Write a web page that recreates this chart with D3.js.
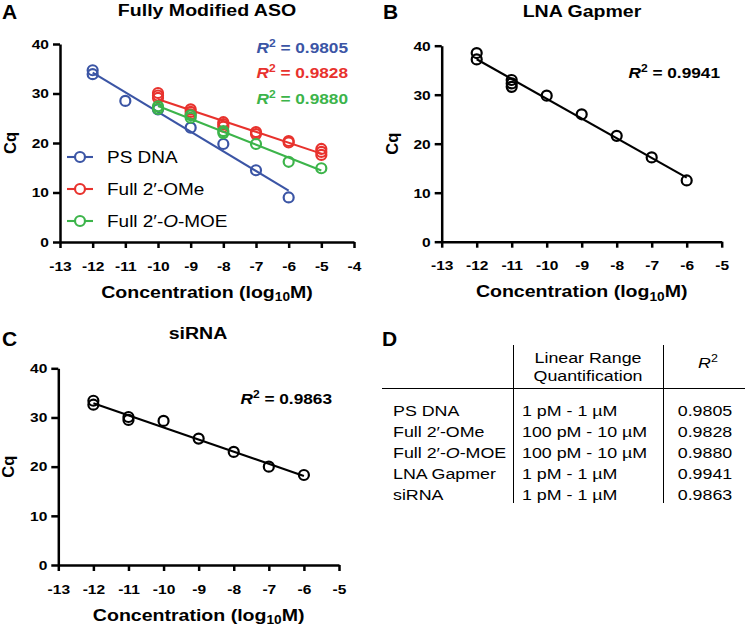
<!DOCTYPE html>
<html><head><meta charset="utf-8">
<script src="https://cdn.jsdelivr.net/npm/d3@7"></script>
<style>
body{margin:0;background:#fff}
svg{display:block}
text{font-family:"Liberation Sans",Arial,Helvetica,sans-serif}
</style>
</head><body>
<svg id="c" width="750" height="629"></svg>
<script>
// ---------- data ----------
const xTicksA = [-13,-12,-11,-10,-9,-8,-7,-6,-5,-4];
const xTicksBC = [-13,-12,-11,-10,-9,-8,-7,-6,-5];
const yTicks = [0,10,20,30,40];

const psDnaX = [-12,-12,-11,-10,-9,-8,-7,-6];
const psDnaY = [34.7,33.9,28.5,26.8,23.1,19.8,14.5,9.0];
const omeX = [-10,-10,-10,-9,-9,-9,-8,-8,-8,-7,-7,-6,-6,-5,-5,-5];
const omeY = [30.1,29.6,29.1,26.8,26.3,25.8,24.2,23.8,23.3,22.2,21.8,20.4,20.1,18.8,18.2,17.6];
const moeX = [-10,-10,-9,-9,-8,-8,-7,-6,-5];
const moeY = [27.4,26.9,25.6,25.1,22.4,22.0,19.8,16.2,14.9];

const lnaX = [-12,-12,-11,-11,-11,-10,-9,-8,-7,-6];
const lnaY = [38.5,37.2,33.0,32.3,31.6,29.8,26.0,21.6,17.2,12.5];

const siX = [-12,-12,-11,-11,-10,-9,-8,-7,-6];
const siY = [33.4,32.6,30.1,29.5,29.3,25.7,23.0,20.0,18.3];

const seriesNames = ["PS DNA","Full 2\u2032-OMe","Full 2\u2032-O-MOE"];
const seriesColors = ["#3b55a5","#e8322d","#3cb44a"];
const r2A = ["0.9805","0.9828","0.9880"];
const r2B = "0.9941";
const r2C = "0.9863";

const tableRows = ["PS DNA","Full 2\u2032-OMe","Full 2\u2032-O-MOE","LNA Gapmer","siRNA"];
const tableRanges = ["1 pM - 1 \u00B5M","100 pM - 10 \u00B5M","100 pM - 10 \u00B5M","1 pM - 1 \u00B5M","1 pM - 1 \u00B5M"];
const tableR2 = ["0.9805","0.9828","0.9880","0.9941","0.9863"];

// ---------- helpers ----------
const SX = 1.15;
const svg = d3.select("#c");

function fit(xs, ys){
  const n = xs.length;
  const mx = d3.mean(xs), my = d3.mean(ys);
  let sxy=0, sxx=0;
  for(let i=0;i<n;i++){ sxy += (xs[i]-mx)*(ys[i]-my); sxx += (xs[i]-mx)*(xs[i]-mx); }
  const b = sxy/sxx; const a = my - b*mx;
  return x => a + b*x;
}

function rtext(g, x, y, parts, o){
  o = Object.assign({size:14, weight:"normal", anchor:"start", fill:"#000", sx:SX}, o||{});
  const t = g.append("text")
    .attr("transform", `translate(${x},${y}) scale(${o.sx},1)`)
    .attr("text-anchor", o.anchor)
    .attr("font-size", o.size)
    .attr("font-weight", o.weight)
    .attr("fill", o.fill);
  if(typeof parts === "string") parts=[{t:parts}];
  let shift = 0;
  parts.forEach(p=>{
    const s = t.append("tspan").text(p.t);
    let target = 0;
    if(p.sup){ target = -o.size*0.38; s.attr("font-size", o.size*0.7); }
    if(p.sub){ target = o.size*0.22; s.attr("font-size", o.size*0.7); }
    if(target !== shift){ s.attr("dy", target-shift); shift = target; }
    if(p.i) s.attr("font-style","italic");
  });
  return t;
}

function styleAxis(g){
  g.select(".domain").attr("stroke","#000").attr("stroke-width",2.5);
  g.selectAll(".tick line").attr("stroke","#000").attr("stroke-width",2.5);
  g.selectAll(".tick text")
    .attr("font-size",13.5).attr("font-weight","bold").attr("fill","#000")
    .attr("font-family",'"Liberation Sans",Arial,sans-serif')
    .each(function(){
      const t=d3.select(this);
      const x=+t.attr("x")||0, y=+t.attr("y")||0;
      t.attr("x",null).attr("y",null).attr("transform",`translate(${x},${y}) scale(${SX},1)`);
    });
}

function panel(p){
  const g = svg.append("g");
  const x = d3.scaleLinear().domain(p.xDomain).range(p.xRange);
  const y = d3.scaleLinear().domain([0,40]).range(p.yRange);
  const ga = g.append("g").attr("transform",`translate(0,${p.yRange[0]})`)
    .call(d3.axisBottom(x).tickValues(p.xTicks).tickFormat(d3.format("d")).tickSize(6).tickPadding(13).tickSizeOuter(0));
  styleAxis(ga);
  ga.selectAll(".tick text").text(d=>String(d).replace("\u2212","-"));
  const gl = g.append("g").attr("transform",`translate(${p.xRange[0]},0)`)
    .call(d3.axisLeft(y).tickValues(yTicks).tickSize(7).tickPadding(4).tickSizeOuter(0));
  styleAxis(gl);
  p.series.forEach(s=>{
    const f = fit(s.x, s.y);
    const x0 = d3.min(s.x), x1 = d3.max(s.x);
    g.append("line").attr("x1",x(x0)).attr("y1",y(f(x0))).attr("x2",x(x1)).attr("y2",y(f(x1)))
      .attr("stroke",s.color).attr("stroke-width",2.1);
    g.selectAll(null).data(s.x.map((v,i)=>[v,s.y[i]])).enter().append("circle")
      .attr("cx",d=>x(d[0])).attr("cy",d=>y(d[1])).attr("r",5)
      .attr("fill","none").attr("stroke",s.color).attr("stroke-width",2.2);
  });
  const cx = (p.xRange[0]+p.xRange[1])/2;
  rtext(g, p.titleX, p.titleY, p.title, {size:17, weight:"bold", anchor:"middle"});
  rtext(g, cx, p.yRange[0]+55.5, [{t:"Concentration (log"},{t:"10",sub:true},{t:"M)"}], {size:17, weight:"bold", anchor:"middle"});
  svg.append("text")
    .attr("transform",`translate(${p.xRange[0]-44},${(p.yRange[0]+p.yRange[1])/2}) rotate(-90)`)
    .attr("text-anchor","middle").attr("font-size",16.5).attr("font-weight","bold").text("Cq");
  return {g,x,y};
}

// ---------- Panel A ----------
const A = panel({
  xDomain:[-13,-4], xRange:[60,354], yRange:[242,44], xTicks:xTicksA,
  title:"Fully Modified ASO", titleX:207, titleY:16,
  series:[
    {x:psDnaX, y:psDnaY, color:seriesColors[0]},
    {x:omeX, y:omeY, color:seriesColors[1]},
    {x:moeX, y:moeY, color:seriesColors[2]}
  ]
});
[53,78,104].forEach((yy,i)=>{
  rtext(A.g, 348, yy, [{t:"R",i:true},{t:"2",sup:true},{t:" = "+r2A[i]}], {size:15, weight:"bold", anchor:"end", fill:seriesColors[i]});
});
[157,189,221].forEach((yy,i)=>{
  A.g.append("line").attr("x1",67).attr("x2",93).attr("y1",yy).attr("y2",yy).attr("stroke",seriesColors[i]).attr("stroke-width",2.1);
  A.g.append("circle").attr("cx",80).attr("cy",yy).attr("r",5).attr("fill","#fff").attr("stroke",seriesColors[i]).attr("stroke-width",2.2);
  const parts = i===2 ? [{t:"Full 2\u2032-"},{t:"O",i:true},{t:"-MOE"}] : [{t:seriesNames[i]}];
  rtext(A.g, 107, yy+6, parts, {size:16.5});
});

// ---------- Panel B ----------
const B = panel({
  xDomain:[-13,-5], xRange:[441.7,721.7], yRange:[241.7,45.7], xTicks:xTicksBC,
  title:"LNA Gapmer", titleX:582, titleY:17,
  series:[{x:lnaX, y:lnaY, color:"#000"}]
});
rtext(B.g, 720, 78, [{t:"R",i:true},{t:"2",sup:true},{t:" = "+r2B}], {size:15, weight:"bold", anchor:"end"});

// ---------- Panel C ----------
const C = panel({
  xDomain:[-13,-5], xRange:[58.3,339], yRange:[565,368.3], xTicks:xTicksBC,
  title:"siRNA", titleX:198, titleY:339,
  series:[{x:siX, y:siY, color:"#000"}]
});
rtext(C.g, 332, 404, [{t:"R",i:true},{t:"2",sup:true},{t:" = "+r2C}], {size:15, weight:"bold", anchor:"end"});

// ---------- panel letters ----------
[["A",2,19],["B",383,19],["C",2,346],["D",382,346]].forEach(d=>{
  svg.append("text").attr("x",d[1]).attr("y",d[2]).attr("font-size",21).attr("font-weight","bold").text(d[0]);
});

// ---------- Table D ----------
const T = svg.append("g");
T.append("line").attr("x1",382).attr("x2",745).attr("y1",388.5).attr("y2",388.5).attr("stroke","#000").attr("stroke-width",1);
[513.5,663.5].forEach(xx=>T.append("line").attr("x1",xx).attr("x2",xx).attr("y1",345).attr("y2",503).attr("stroke","#000").attr("stroke-width",1));
rtext(T, 588, 363, "Linear Range", {size:15.5, anchor:"middle"});
rtext(T, 588, 381, "Quantification", {size:15.5, anchor:"middle"});
rtext(T, 708, 368, [{t:"R",i:true},{t:"2",sup:true}], {size:15.5, anchor:"middle"});
const rowY = [416,437,458,479,500];
tableRows.forEach((r,i)=>{
  const parts = r.indexOf("O-MOE")>=0 ? [{t:"Full 2\u2032-"},{t:"O",i:true},{t:"-MOE"}] : [{t:r}];
  rtext(T, 393, rowY[i], parts, {size:15.5});
  rtext(T, 522, rowY[i], tableRanges[i], {size:15.5});
  rtext(T, 705, rowY[i], tableR2[i], {size:15.5, anchor:"middle"});
});
</script>
</body></html>
